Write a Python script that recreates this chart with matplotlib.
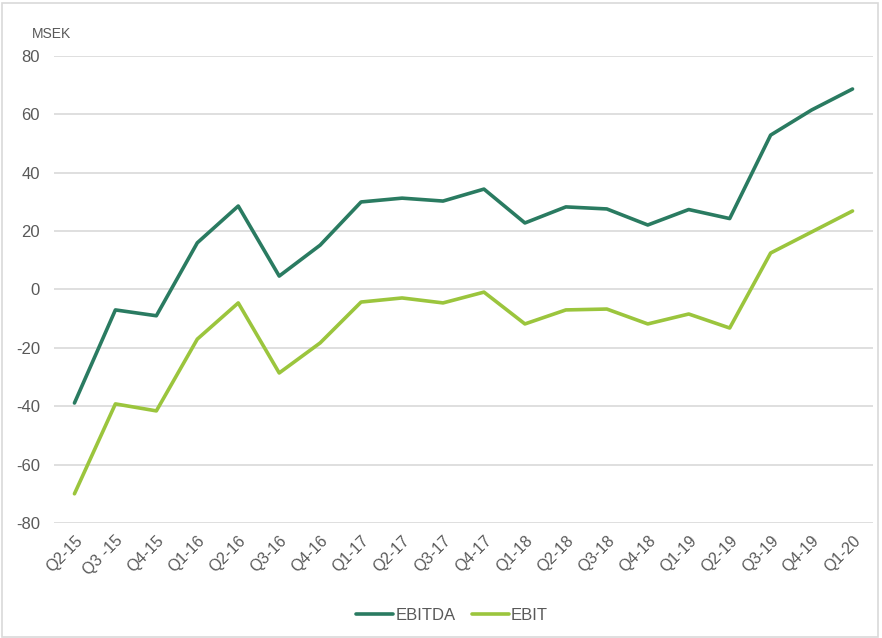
import matplotlib.pyplot as plt
from matplotlib.patches import Rectangle

quarters = ["Q2-15", "Q3 -15", "Q4-15", "Q1-16", "Q2-16", "Q3-16", "Q4-16",
            "Q1-17", "Q2-17", "Q3-17", "Q4-17", "Q1-18", "Q2-18", "Q3-18",
            "Q4-18", "Q1-19", "Q2-19", "Q3-19", "Q4-19", "Q1-20"]
ebitda = [-38.9, -7.0, -9.0, 16.0, 28.6, 4.6, 15.2, 30.0, 31.3, 30.3, 34.4,
          22.8, 28.3, 27.6, 22.1, 27.4, 24.3, 52.9, 61.5, 68.7]
ebit = [-70.0, -39.2, -41.6, -17.0, -4.6, -28.6, -18.3, -4.3, -2.9, -4.6,
        -0.9, -11.8, -7.0, -6.7, -11.8, -8.4, -13.2, 12.5, 19.7, 26.9]
yticks = [-80, -60, -40, -20, 0, 20, 40, 60, 80]

plt.rcParams['font.family'] = ['Liberation Sans', 'DejaVu Sans']
gray = "#595959"

fig = plt.figure(figsize=(8.82, 6.38), dpi=100)
fig.patches.append(Rectangle((0.002, 0.002), 0.994, 0.994, transform=fig.transFigure,
                             fill=False, edgecolor="#d9d9d9", linewidth=1.2))
ax = fig.add_axes([0.0612, 0.1803, 0.9286, 0.7319])

x = range(len(quarters))
ax.plot(x, ebitda, color="#2a7b61", linewidth=2.6, label="EBITDA", solid_capstyle="round")
ax.plot(x, ebit, color="#9bc53d", linewidth=2.6, label="EBIT", solid_capstyle="round")

ax.set_xlim(-0.5, len(quarters) - 0.5)
ax.set_ylim(-80, 80)
ax.set_yticks(yticks)
ax.set_yticklabels([str(v) for v in yticks], fontsize=12, color=gray)
ax.set_xticks(list(x))
ax.set_xticklabels(quarters, rotation=45, ha="right", rotation_mode="anchor",
                   fontsize=11.5, color=gray)
ax.tick_params(axis="y", length=0, pad=10)
ax.tick_params(axis="x", length=0, pad=7)
ax.grid(axis="y", color="#d9d9d9", linewidth=1.2)
ax.set_axisbelow(True)
for s in ax.spines.values():
    s.set_visible(False)

fig.text(0.036, 0.947, "MSEK", fontsize=10, color=gray, ha="left", va="center")

fig.legend(loc="center", bbox_to_anchor=(0.5125, 0.036), ncol=2, frameon=False,
           fontsize=12, labelcolor=gray, handlelength=2.2, columnspacing=1.0,
           handletextpad=0.15)

fig.savefig("out.png", dpi=100)
